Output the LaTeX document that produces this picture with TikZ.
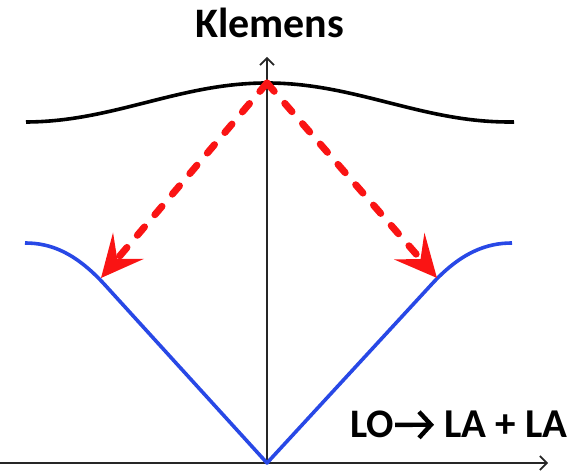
\documentclass[tikz,border=0pt]{standalone}
\usepackage{fontspec}
\setmainfont{Carlito}
\usetikzlibrary{arrows.meta}
\definecolor{bandblue}{RGB}{40,72,230}
\definecolor{arrred}{RGB}{250,20,20}
\tikzset{
  axis/.style={line width=1.6pt, draw=black!85, -{Straight Barb[length=7pt,width=14pt,line width=1.6pt]}},
  optic/.style={line width=3.6pt, black},
  acoustic/.style={line width=3.6pt, bandblue, line join=round},
  decay/.style={line width=7pt, arrred, line cap=round, dash pattern=on 11pt off 16pt,
    -{Stealth[length=42pt,width=40pt,inset=17pt]}},
  lbl/.style={font=\bfseries\fontsize{42}{46}\selectfont, inner sep=0pt, anchor=base west},
  procarrow/.style={line width=4.4pt, black, -{Straight Barb[length=12pt,width=26pt,line width=4.4pt]}}
}
\begin{document}
\begin{tikzpicture}[x=1pt,y=1pt]
\useasboundingbox (0,0) rectangle (578,473);
\coordinate (O) at (267,10);
\coordinate (Ytop) at (267,416);
\coordinate (Xl) at (0,10);
\coordinate (Xr) at (548,10);
\coordinate (P) at (267,390);
\coordinate (TL) at (101,195);
\coordinate (TR) at (437,195);
% axes
\draw[axis] (Xl) -- (Xr);
\draw[axis, line width=1.3pt] (O) -- (Ytop);
% optical branch
\draw[optic] plot[domain=26:514, samples=120] (\x, {370.5+19.5*cos(0.7438*(\x-267))});
% acoustic branch
\draw[acoustic] (25,230) .. controls (50,230) and (75,221) .. (105,188) -- (O)
  -- (431,188) .. controls (461,221) and (487,230) .. (512,230);
% decay arrows
\draw[decay] (P) -- (TL);
\draw[decay] (P) -- (TR);
% labels
\node[lbl] (klem) at (195,435) {Klemens};
\node[lbl, font=\bfseries\fontsize{40.5}{44}\selectfont] (lo) at (350,35) {LO};
\node[lbl, font=\bfseries\fontsize{41}{44}\selectfont] (la) at (444,35) {LA + LA};
\draw[procarrow, shorten <=1pt, shorten >=10pt] (lo.east) -- (la.west);
\end{tikzpicture}
\end{document}
